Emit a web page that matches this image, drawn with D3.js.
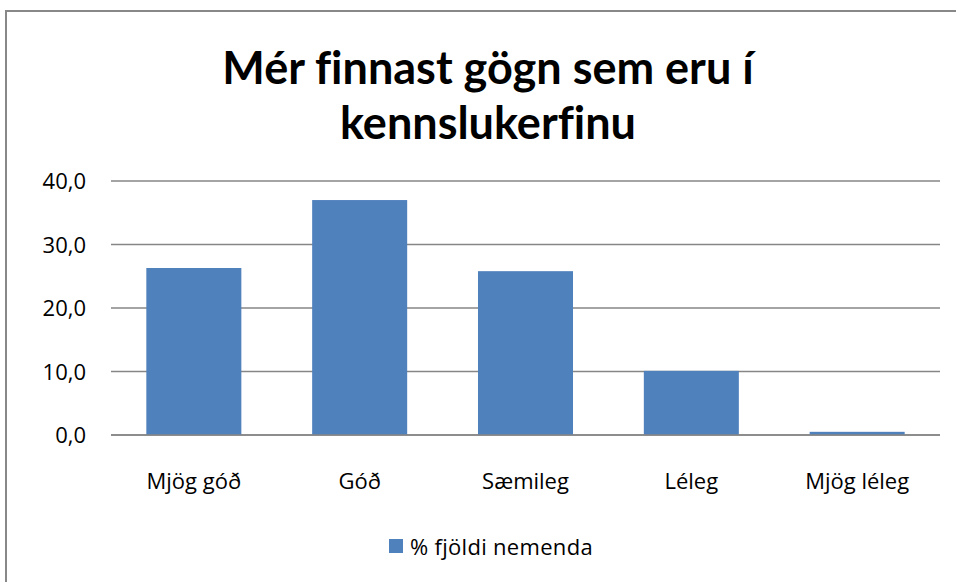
<!DOCTYPE html>
<html>
<head>
<meta charset="utf-8">
<script src="https://cdn.jsdelivr.net/npm/d3@7"></script>
<style>
  body { margin: 0; background: #fff; }
  svg { display: block; }
  text { font-family: "Open Sans", Lato, sans-serif; fill: #000; }
  .title { font-family: Lato, "Open Sans", sans-serif; font-feature-settings: "liga" 0, "clig" 0; font-variant-ligatures: none; }
</style>
</head>
<body>
<svg></svg>
<script>
const categories = ['Mjög góð', 'Góð', 'Sæmileg', 'Léleg', 'Mjög léleg'];
const values = [26.3, 37.0, 25.8, 10.1, 0.5];
const yTicks = [0, 10, 20, 30, 40];
const titleLines = ['Mér finnast gögn sem eru í', 'kennslukerfinu'];
const seriesName = '% fjöldi nemenda';

const width = 956;
const height = 582;
const barColor = '#4F81BD';

const svg = d3.select('svg')
  .attr('width', width)
  .attr('height', height);

// chart frame
svg.append('rect')
  .attr('x', 6)
  .attr('y', 11)
  .attr('width', width + 10)
  .attr('height', height + 10)
  .attr('fill', 'none')
  .attr('stroke', '#888')
  .attr('stroke-width', 2);

const title = svg.append('g');
titleLines.forEach((line, i) => {
  title.append('text')
    .attr('class', 'title')
    .attr('x', 488)
    .attr('y', 84 + i * 55)
    .attr('text-anchor', 'middle')
    .attr('font-size', '45px')
    .attr('font-weight', 'bold')
    .text(line);
});

const x = d3.scaleBand()
  .domain(categories)
  .range([111, 940])
  .paddingInner(0.427)
  .paddingOuter(0.213);

const y = d3.scaleLinear()
  .domain([0, 40])
  .range([435, 181]);

const grid = svg.append('g');
grid.selectAll('line')
  .data(yTicks)
  .enter().append('line')
    .attr('x1', 111)
    .attr('x2', 940)
    .attr('y1', d => y(d))
    .attr('y2', d => y(d))
    .attr('stroke', '#868686')
    .attr('stroke-width', 1.5);

svg.append('g')
  .selectAll('rect')
  .data(values)
  .enter().append('rect')
    .attr('x', (d, i) => x(categories[i]))
    .attr('y', d => y(d))
    .attr('width', x.bandwidth())
    .attr('height', d => y(0) - y(d))
    .attr('fill', barColor);

// redraw baseline on top of bars
svg.append('line')
  .attr('x1', 111)
  .attr('x2', 940)
  .attr('y1', y(0))
  .attr('y2', y(0))
  .attr('stroke', '#868686')
  .attr('stroke-width', 1.5);

const fmt = d => d3.format('.1f')(d).replace('.', ',');

svg.append('g')
  .selectAll('text')
  .data(yTicks)
  .enter().append('text')
    .attr('x', 86)
    .attr('y', d => y(d) + 8)
    .attr('text-anchor', 'end')
    .attr('font-size', '22px')
    .text(fmt);

svg.append('g')
  .selectAll('text')
  .data(categories)
  .enter().append('text')
    .attr('x', d => x(d) + x.bandwidth() / 2)
    .attr('y', 489)
    .attr('text-anchor', 'middle')
    .attr('font-size', '22px')
    .text(d => d);

const legend = svg.append('g');
legend.append('rect')
  .attr('x', 389)
  .attr('y', 539)
  .attr('width', 14)
  .attr('height', 14)
  .attr('fill', barColor);
legend.append('text')
  .attr('x', 410)
  .attr('y', 555)
  .attr('font-size', '22px')
  .attr('letter-spacing', '0.3px')
  .text(seriesName);
</script>
</body>
</html>
